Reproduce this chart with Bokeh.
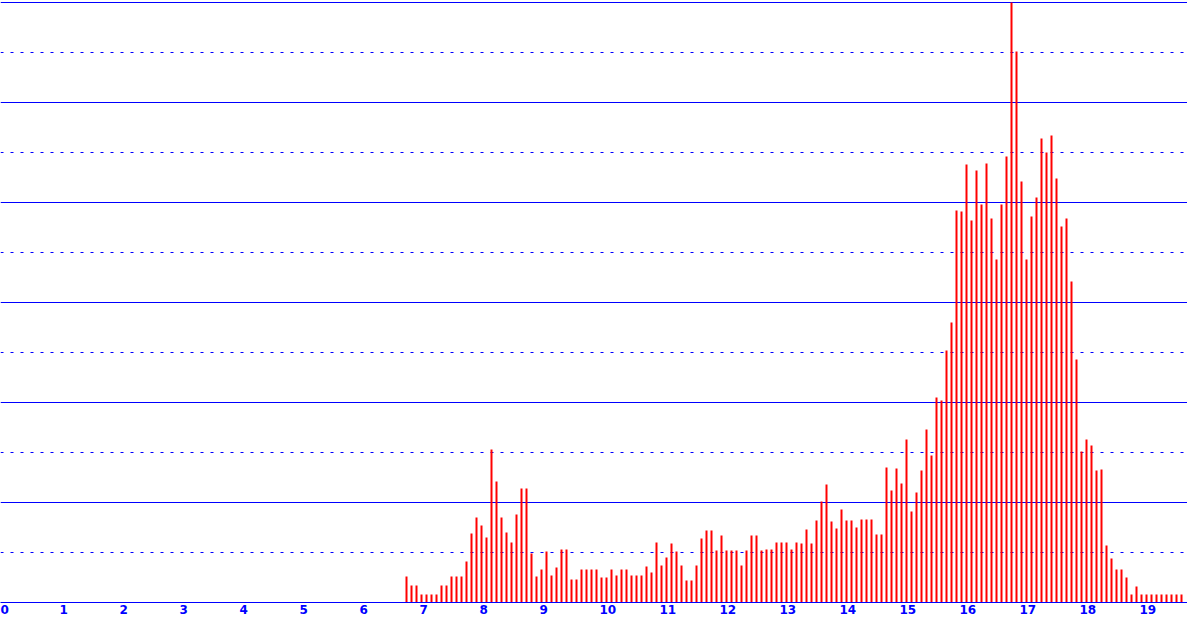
from bokeh.plotting import figure
from bokeh.models import Range1d, Grid, FixedTicker
from bokeh.embed import file_html
from bokeh.resources import INLINE

# histogram: bins of width 1/12 starting at 6.75
bin_start = 6.75
bin_width = 1 / 12
heights = [
    26, 17, 17, 8, 8, 8, 8, 17, 17, 26, 26, 26, 41, 69, 85, 77, 65, 153, 121, 85,
    70, 60, 88, 114, 114, 49, 26, 33, 51, 27, 35, 53, 53, 23, 23, 33, 33, 33, 33, 25,
    25, 33, 27, 33, 33, 27, 27, 27, 36, 30, 60, 37, 45, 59, 51, 37, 22, 22, 37, 64,
    72, 72, 52, 67, 52, 52, 52, 37, 52, 67, 67, 52, 53, 53, 60, 60, 60, 53, 60, 59,
    73, 59, 82, 101, 118, 81, 74, 93, 82, 82, 75, 83, 83, 83, 68, 68, 135, 112, 134, 119,
    163, 91, 110, 132, 173, 147, 205, 202, 252, 280, 392, 391, 438, 382, 432, 398, 439, 384, 343, 398,
    446, 600, 551, 421, 343, 386, 405, 464, 450, 467, 424, 376, 384, 321, 243, 151, 163, 157, 132, 133,
    57, 44, 33, 33, 25, 8, 16, 8, 8, 8, 8, 8, 8, 8, 8, 8,
]
tick_values = list(range(20))
tick_labels = [str(v) for v in tick_values]
solid_levels = [100, 200, 300, 400, 500, 600]
dotted_levels = [50, 150, 250, 350, 450, 550]

W, H = 1187, 622
PX_PER_UNIT = 60
bar_w = 2 / PX_PER_UNIT
x_center = [bin_start + i * bin_width + bar_w / 2 for i in range(len(heights))]

# labels are drawn starting at their tick (left aligned look):
# shift the centred label by half its width
DIGIT_PX = 8.35
label_pos = [v + (len(s) * DIGIT_PX / 2 - 1) / PX_PER_UNIT
             for v, s in zip(tick_values, tick_labels)]

p = figure(width=W, height=H, output_backend="svg", toolbar_location=None,
           x_range=Range1d(0, W / PX_PER_UNIT), y_range=Range1d(0, 602),
           x_axis_location="below", y_axis_location=None,
           min_border_left=0, min_border_right=0, min_border_top=0,
           min_border_bottom=20)
p.outline_line_color = None
p.background_fill_color = "white"
p.border_fill_color = "white"
p.xgrid.visible = False

blue = "#0000FF"
p.add_layout(Grid(dimension=1, ticker=FixedTicker(ticks=solid_levels),
                  grid_line_color=blue, grid_line_width=1))
p.add_layout(Grid(dimension=1, ticker=FixedTicker(ticks=dotted_levels),
                  grid_line_color=blue, grid_line_width=1, grid_line_dash="3 7"))

p.vbar(x=x_center, width=bar_w, top=heights, bottom=0,
       fill_color="#FF0000", line_color=None)

ax = p.xaxis[0]
ax.ticker = FixedTicker(ticks=label_pos)
ax.major_label_overrides = {pos: s for pos, s in zip(label_pos, tick_labels)}
ax.axis_line_color = blue
ax.axis_line_width = 1
ax.major_tick_line_color = None
ax.minor_tick_line_color = None
ax.major_tick_out = 0
ax.major_tick_in = 0
ax.major_label_standoff = 2
ax.major_label_text_color = blue
ax.major_label_text_font = "DejaVu Sans"
ax.major_label_text_font_style = "bold"
ax.major_label_text_font_size = "12px"
ax.major_label_text_align = "center"

html = file_html(p, INLINE)
html = html.replace("<head>", "<head><style>html,body{margin:0;padding:0;overflow:hidden}</style>", 1)
open("out.html", "w").write(html)
